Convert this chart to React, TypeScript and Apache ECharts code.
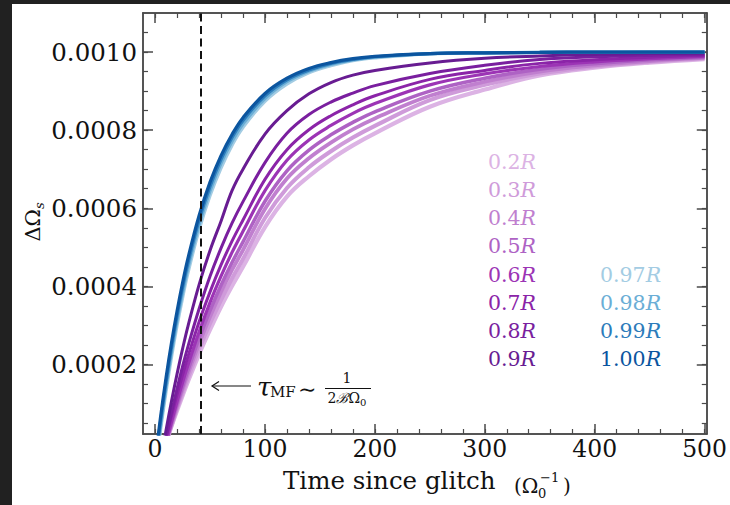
import React, { useEffect, useRef } from "react";
import * as echarts from "echarts";

// Time since glitch (units of 1/Omega_0)
const TIMES = [0, 5, 10, 15, 20, 25, 30, 40, 50, 60, 70, 80, 100, 120, 140, 160, 180, 200, 250, 300, 350, 400, 450, 500];

// Delta Omega_s, one array per radius
const R_020 = [-0.000089, -0.000044, 0.0, 0.000042, 0.000082, 0.00012, 0.000157, 0.000226, 0.000289, 0.000348, 0.000401, 0.00045, 0.000552, 0.00063, 0.000682, 0.000725, 0.000761, 0.000792, 0.00086, 0.000904, 0.00094, 0.00096, 0.000973, 0.000982];
const R_030 = [-0.000095, -0.000046, 0.0, 0.000044, 0.000087, 0.000127, 0.000166, 0.000239, 0.000305, 0.000365, 0.00042, 0.00047, 0.000575, 0.000652, 0.000705, 0.000746, 0.000781, 0.000811, 0.000877, 0.000916, 0.000945, 0.000963, 0.000975, 0.000984];
const R_040 = [-0.000102, -0.00005, 0.0, 0.000047, 0.000092, 0.000136, 0.000177, 0.000253, 0.000322, 0.000385, 0.000442, 0.000493, 0.000598, 0.000676, 0.000728, 0.000768, 0.000802, 0.00083, 0.000888, 0.000924, 0.00095, 0.000966, 0.000977, 0.000985];
const R_050 = [-0.000108, -0.000053, 0.0, 0.00005, 0.000098, 0.000143, 0.000186, 0.000266, 0.000338, 0.000403, 0.000461, 0.000514, 0.000618, 0.000696, 0.000749, 0.000788, 0.00082, 0.000847, 0.0009, 0.000933, 0.000956, 0.00097, 0.00098, 0.000987];
const R_060 = [-0.000117, -0.000057, 0.0, 0.000054, 0.000105, 0.000154, 0.000199, 0.000283, 0.000359, 0.000426, 0.000487, 0.000541, 0.000645, 0.000723, 0.000775, 0.000812, 0.000843, 0.000868, 0.000916, 0.000944, 0.000963, 0.000975, 0.000983, 0.000989];
const R_070 = [-0.000113, -0.000049, 0.000012, 0.000069, 0.000123, 0.000173, 0.000221, 0.000309, 0.000386, 0.000455, 0.000516, 0.00057, 0.000674, 0.00075, 0.000801, 0.000837, 0.000865, 0.000888, 0.00093, 0.000953, 0.000971, 0.00098, 0.000987, 0.000991];
const R_080 = [-0.000129, -0.000055, 0.000013, 0.000078, 0.000138, 0.000195, 0.000247, 0.000342, 0.000426, 0.000498, 0.000562, 0.000617, 0.000717, 0.000792, 0.00084, 0.000872, 0.000895, 0.000914, 0.000945, 0.000966, 0.000981, 0.000988, 0.000992, 0.000994];
const R_090 = [-0.00014, -0.00005, 0.000032, 0.000107, 0.000176, 0.00024, 0.000299, 0.000404, 0.000492, 0.000567, 0.000645, 0.0007, 0.00079, 0.00085, 0.000893, 0.000922, 0.000941, 0.000953, 0.000972, 0.000984, 0.00099, 0.000994, 0.000996, 0.000997];
const R_097 = [-0.000078, 0.000032, 0.00013, 0.000219, 0.000299, 0.00037, 0.000435, 0.000544, 0.000632, 0.000703, 0.000761, 0.000807, 0.000874, 0.000918, 0.000947, 0.000965, 0.000978, 0.000985, 0.000995, 0.000998, 0.000999, 0.000999, 0.001, 0.001];
const R_098 = [-0.000068, 0.000043, 0.000143, 0.000232, 0.000312, 0.000383, 0.000448, 0.000557, 0.000644, 0.000715, 0.000771, 0.000816, 0.000881, 0.000924, 0.000951, 0.000968, 0.00098, 0.000987, 0.000996, 0.000998, 0.000999, 0.000999, 0.001, 0.001];
const R_099 = [-0.000058, 0.000055, 0.000155, 0.000245, 0.000325, 0.000397, 0.000461, 0.00057, 0.000656, 0.000725, 0.000781, 0.000825, 0.000888, 0.000929, 0.000954, 0.000971, 0.000981, 0.000988, 0.000996, 0.000998, 0.000999, 0.001, 0.001, 0.001];
const R_100 = [-0.000047, 0.000066, 0.000167, 0.000257, 0.000337, 0.000409, 0.000473, 0.000581, 0.000667, 0.000735, 0.000789, 0.000832, 0.000894, 0.000933, 0.000958, 0.000973, 0.000983, 0.000989, 0.000996, 0.000998, 0.000999, 0.001, 0.001, 0.001];

const RADII = ["0.2", "0.3", "0.4", "0.5", "0.6", "0.7", "0.8", "0.9", "0.97", "0.98", "0.99", "1.00"];
const VALUES = [R_020, R_030, R_040, R_050, R_060, R_070, R_080, R_090, R_097, R_098, R_099, R_100];
const COLORS = ["#dcb3e4", "#cf9bda", "#c07fcf", "#ae62c4", "#9c34b5", "#8b24a8", "#7a1f9f", "#681c92", "#a3cce3", "#6aaed6", "#2c7cbb", "#0b559f"];
const WIDTHS = [4.2, 4, 3.8, 3.5, 3.2, 3, 3, 3, 3.2, 3.2, 3.2, 3.2];

const X_MAJOR = [0, 100, 200, 300, 400, 500];
const X_MINOR = [0, 20, 40, 60, 80, 100, 120, 140, 160, 180, 200, 220, 240, 260, 280, 300, 320, 340, 360, 380, 400, 420, 440, 460, 480, 500];
const Y_MAJOR = [0.0002, 0.0004, 0.0006, 0.0008, 0.001];
const Y_MINOR = [0.00005, 0.0001, 0.00015, 0.0002, 0.00025, 0.0003, 0.00035, 0.0004, 0.00045, 0.0005, 0.00055, 0.0006, 0.00065, 0.0007, 0.00075, 0.0008, 0.00085, 0.0009, 0.00095, 0.001, 0.00105];
const X_MIN = -11;
const X_MAX = 502;
const Y_MIN = 0.000022;
const Y_MAX = 0.0011;
const TAU_MF = 42;

const SERIF = "DejaVu Serif";
const AX = "#4a4a4a";
const INK = "#111111";

function xAxis(position: string, ticks: number[], len: number, labels: boolean) {
  return {
    type: "value",
    position,
    min: X_MIN,
    max: X_MAX,
    axisLine: { show: true, onZero: false, lineStyle: { color: AX, width: 1.5 } },
    axisTick: { show: true, inside: true, length: len, customValues: ticks, lineStyle: { color: AX, width: len > 6 ? 1.5 : 1.2 } },
    axisLabel: labels
      ? { show: true, customValues: ticks, margin: 3, color: INK, fontFamily: SERIF, fontSize: 23.5 }
      : { show: false },
    splitLine: { show: false },
  };
}

function yAxis(position: string, ticks: number[], len: number, labels: boolean) {
  return {
    type: "value",
    position,
    min: Y_MIN,
    max: Y_MAX,
    axisLine: { show: true, onZero: false, lineStyle: { color: AX, width: 1.5 } },
    axisTick: { show: true, inside: true, length: len, customValues: ticks, lineStyle: { color: AX, width: len > 6 ? 1.5 : 1.2 } },
    axisLabel: labels
      ? {
          show: true,
          customValues: ticks,
          margin: 6,
          color: INK,
          fontFamily: SERIF,
          fontSize: 24.5,
          formatter: (v: number) => v.toFixed(4),
        }
      : { show: false },
    splitLine: { show: false },
  };
}

function labelText(i: number, x: number, y: number) {
  return {
    type: "text",
    x,
    y,
    silent: true,
    style: {
      text: `{n|${RADII[i]}}{r|R}`,
      align: "left",
      verticalAlign: "middle",
      rich: {
        n: { fontFamily: SERIF, fontSize: 20.5, fill: COLORS[i] },
        r: { fontFamily: SERIF, fontSize: 20.5, fontStyle: "italic", fill: COLORS[i] },
      },
    },
  };
}

export default function App() {
  const ref = useRef<HTMLDivElement>(null);

  useEffect(() => {
    if (!ref.current) return;
    const chart = echarts.init(ref.current, null, { renderer: "svg" });

    const series: any[] = VALUES.map((vals, i) => ({
      type: "line",
      name: RADII[i] + "R",
      data: TIMES.map((t, k) => [t, vals[k]]),
      xAxisIndex: 0,
      yAxisIndex: 0,
      smooth: 0.4,
      showSymbol: false,
      symbol: "none",
      clip: true,
      lineStyle: { color: COLORS[i], width: WIDTHS[i] },
      z: 2 + i,
    }));
    series[series.length - 1].markLine = {
      silent: true,
      symbol: ["none", "none"],
      label: { show: false },
      lineStyle: { color: INK, type: [8, 4.5], width: 2 },
      data: [{ xAxis: TAU_MF }],
      z: 20,
    };

    const graphics: any[] = [];
    const rowTop = 161.7;
    const rowGap = 28.23;
    for (let i = 0; i < 8; i++) graphics.push(labelText(i, 488, rowTop + i * rowGap));
    for (let i = 0; i < 4; i++) graphics.push(labelText(8 + i, 600, rowTop + (4 + i) * rowGap));

    // annotation: arrow + tau_MF ~ 1/(2 B Omega_0)
    graphics.push(
      { type: "line", silent: true, shape: { x1: 212, y1: 386, x2: 251, y2: 386 }, style: { stroke: INK, lineWidth: 1.2 } },
      { type: "polyline", silent: true, shape: { points: [[219, 381.5], [212, 386], [219, 390.5]] }, style: { stroke: INK, lineWidth: 1.2, fill: "none" } },
      { type: "text", silent: true, x: 257, y: 387, style: { text: "τ", fontFamily: SERIF, fontSize: 26, fontStyle: "italic", fill: INK, align: "left", verticalAlign: "middle" } },
      { type: "text", silent: true, x: 270, y: 392, style: { text: "MF", fontFamily: SERIF, fontSize: 15, fill: INK, align: "left", verticalAlign: "middle" } },
      { type: "text", silent: true, x: 298, y: 389, style: { text: "∼", fontFamily: SERIF, fontSize: 22, fill: INK, align: "left", verticalAlign: "middle" } },
      { type: "text", silent: true, x: 347, y: 378, style: { text: "1", fontFamily: SERIF, fontSize: 14, fill: INK, align: "center", verticalAlign: "middle" } },
      { type: "line", silent: true, shape: { x1: 325, y1: 388.5, x2: 371, y2: 388.5 }, style: { stroke: INK, lineWidth: 1 } },
      {
        type: "text",
        silent: true,
        x: 347,
        y: 398,
        style: {
          text: "{a|2}{b|ℬ}{a|Ω}{s|0}",
          align: "center",
          verticalAlign: "middle",
          rich: {
            a: { fontFamily: SERIF, fontSize: 14, fill: INK, lineHeight: 18, verticalAlign: "middle" },
            b: { fontFamily: SERIF, fontSize: 14, fontStyle: "italic", fill: INK, lineHeight: 18, verticalAlign: "middle" },
            s: { fontFamily: SERIF, fontSize: 10, fill: INK, lineHeight: 10, verticalAlign: "bottom" },
          },
        },
      }
    );

    // axis titles
    graphics.push(
      { type: "text", silent: true, x: 283, y: 480, style: { text: "Time since glitch", fontFamily: SERIF, fontSize: 24.5, fill: INK, align: "left", verticalAlign: "middle" } },
      { type: "text", silent: true, x: 514, y: 486, style: { text: "(Ω", fontFamily: SERIF, fontSize: 20, fill: INK, align: "left", verticalAlign: "middle" } },
      { type: "text", silent: true, x: 538, y: 493, style: { text: "0", fontFamily: SERIF, fontSize: 13, fill: INK, align: "left", verticalAlign: "middle" } },
      { type: "text", silent: true, x: 540, y: 477, style: { text: "−1", fontFamily: SERIF, fontSize: 13, fill: INK, align: "left", verticalAlign: "middle" } },
      { type: "text", silent: true, x: 563, y: 486, style: { text: ")", fontFamily: SERIF, fontSize: 20, fill: INK, align: "left", verticalAlign: "middle" } },
      {
        type: "text",
        silent: true,
        x: 33,
        y: 222,
        rotation: Math.PI / 2,
        style: {
          text: "{a|ΔΩ}{s|s}",
          align: "center",
          verticalAlign: "middle",
          rich: {
            a: { fontFamily: SERIF, fontSize: 21, fill: INK, lineHeight: 26, verticalAlign: "middle" },
            s: { fontFamily: SERIF, fontSize: 13, fontStyle: "italic", fill: INK, lineHeight: 14, verticalAlign: "bottom" },
          },
        },
      }
    );

    chart.setOption({
      animation: false,
      backgroundColor: "transparent",
      grid: { left: 143, right: 21, top: 13, bottom: 71, containLabel: false },
      xAxis: [
        xAxis("bottom", X_MAJOR, 10, true),
        xAxis("bottom", X_MINOR, 5, false),
        xAxis("top", X_MAJOR, 10, false),
        xAxis("top", X_MINOR, 5, false),
      ],
      yAxis: [
        yAxis("left", Y_MAJOR, 10, true),
        yAxis("left", Y_MINOR, 5, false),
        yAxis("right", Y_MAJOR, 10, false),
        yAxis("right", Y_MINOR, 5, false),
      ],
      series,
      graphic: graphics,
    });

    return () => chart.dispose();
  }, []);

  return (
    <div style={{ position: "fixed", left: 0, top: 0, width: 730, height: 505, background: "#212121", overflow: "hidden" }}>
      <div style={{ position: "absolute", left: 12, top: 4, width: 718, height: 501, background: "#ffffff" }} />
      <div ref={ref} style={{ position: "absolute", left: 0, top: 0, width: 730, height: 505 }} />
    </div>
  );
}
